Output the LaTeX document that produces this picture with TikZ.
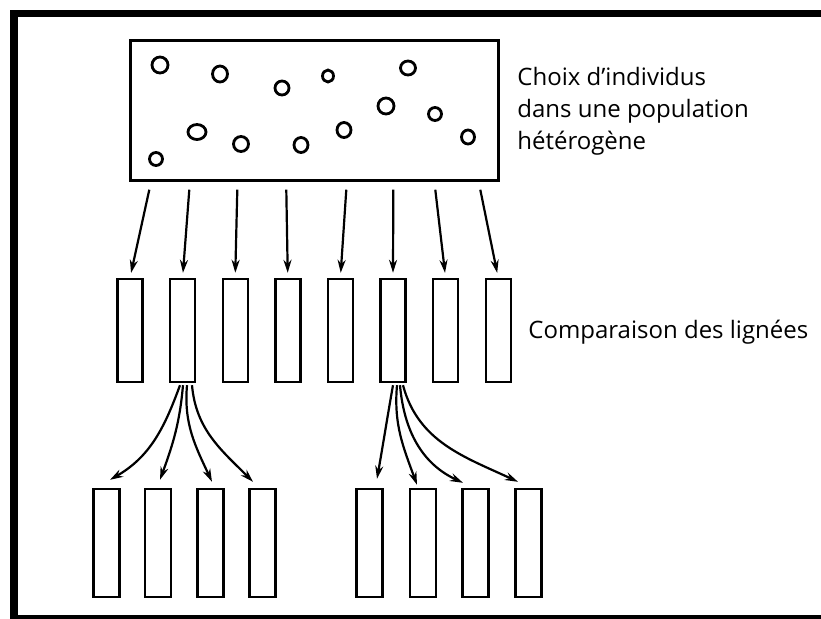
\documentclass[tikz,border=0pt]{standalone}
\usepackage{fontspec}
\setmainfont{Open Sans}
\usetikzlibrary{
%    positioning,
    arrows.meta
}

\begin{document}
\begin{tikzpicture}
        [
            x = 0.5pt, y = 0.5pt,
            population/.style = {draw, line width = 1.2pt, rectangle, inner sep = 0pt, minimum width = 184pt, minimum height = 70pt},
            individu/.style = {draw, line width = 1.4pt},
            lignee/.style = {draw, line width = 1.2pt, rectangle, inner sep = 0pt, minimum width = 12.5pt, minimum height = 51.5pt},
            descendant/.style = {draw, line width = 1.2pt, rectangle, inner sep = 0pt, minimum width = 13pt, minimum height = 54pt},
            fleche/.style = {line width = 1.1pt, -{Stealth[length = 6.5pt, width = 4pt]}},
            legende/.style = {inner sep = 0pt, font = \fontsize{12pt}{16pt}\selectfont, align = left}
        ]
        \useasboundingbox (0,0) rectangle (821,-618);
        \clip (0,0) rectangle (821,-618);
        \fill[white] (0,0) rectangle (821,-618);
        \draw[line width = 3.75pt] (830,-618.5) -- (14,-618.5) -- (14,-13.5) -- (830,-13.5);
        % population de depart
        \node[population] (pop) at (314.5,-110.5) {};
        \foreach \x/\y/\rx/\ry in {160/65/8/8, 220/74/7.5/8, 282/88/7/7, 197/132/9/7.5, 241/144/7.5/7.5, 301/145/7/7.5, 156/159/6.5/6.5,
                                   328/76/5.5/6, 408/68/7.5/7, 386/106/8/8, 435/114/6.5/6.5, 344/130/7/7.5, 468/137/6.5/7}
            \draw[individu] (\x,-\y) ellipse [x radius = \rx, y radius = \ry];
        \node[legende, anchor = north west] (choix) at (517,-67) {Choix d’individus\\dans une population\\hétérogène};
        % lignees
        \foreach \x [count = \i] in {130,182.6,235.2,287.8,340.4,393,445.6,498.2}
            \node[lignee] (l\i) at (\x,-330.5) {};
        \node[legende, anchor = base west] (comparaison) at (528,-338) {Comparaison des lignées};
        \foreach \dx/\i in {20/1,60/2,108/3,157/4,217/5,264/6,306/7,351/8}
            \draw[fleche, shorten >= 2.5pt] ([shift = {(\dx,-8)}]pop.south west) -- (l\i.north);
        % descendants
        \foreach \x [count = \i] in {106.5,158,210.5,262.5,369.5,423,475.5,528.5}
            \node[descendant] (d\i) at (\x,-543) {};
        \foreach \b/\a/\j/\ex/\ey/\o/\n in {2/-2.6/1/3.5/8/-110/30, 2/0.4/2/2/8/-95/70, 2/4.4/3/1.5/6/-95/115, 2/9.4/4/-9.5/6/-85/135,
                                            6/0/5/7.5/9/-100/80, 6/4/6/-6/3/-95/110, 6/7/7/-12.5/5/-85/155, 6/10/8/-10.5/6/-75/155}
            \draw[fleche] ([shift = {(\a,-2)}]l\b.south) to[out = \o, in = \n] ([shift = {(\ex,\ey)}]d\j.north);
\end{tikzpicture}
\end{document}
